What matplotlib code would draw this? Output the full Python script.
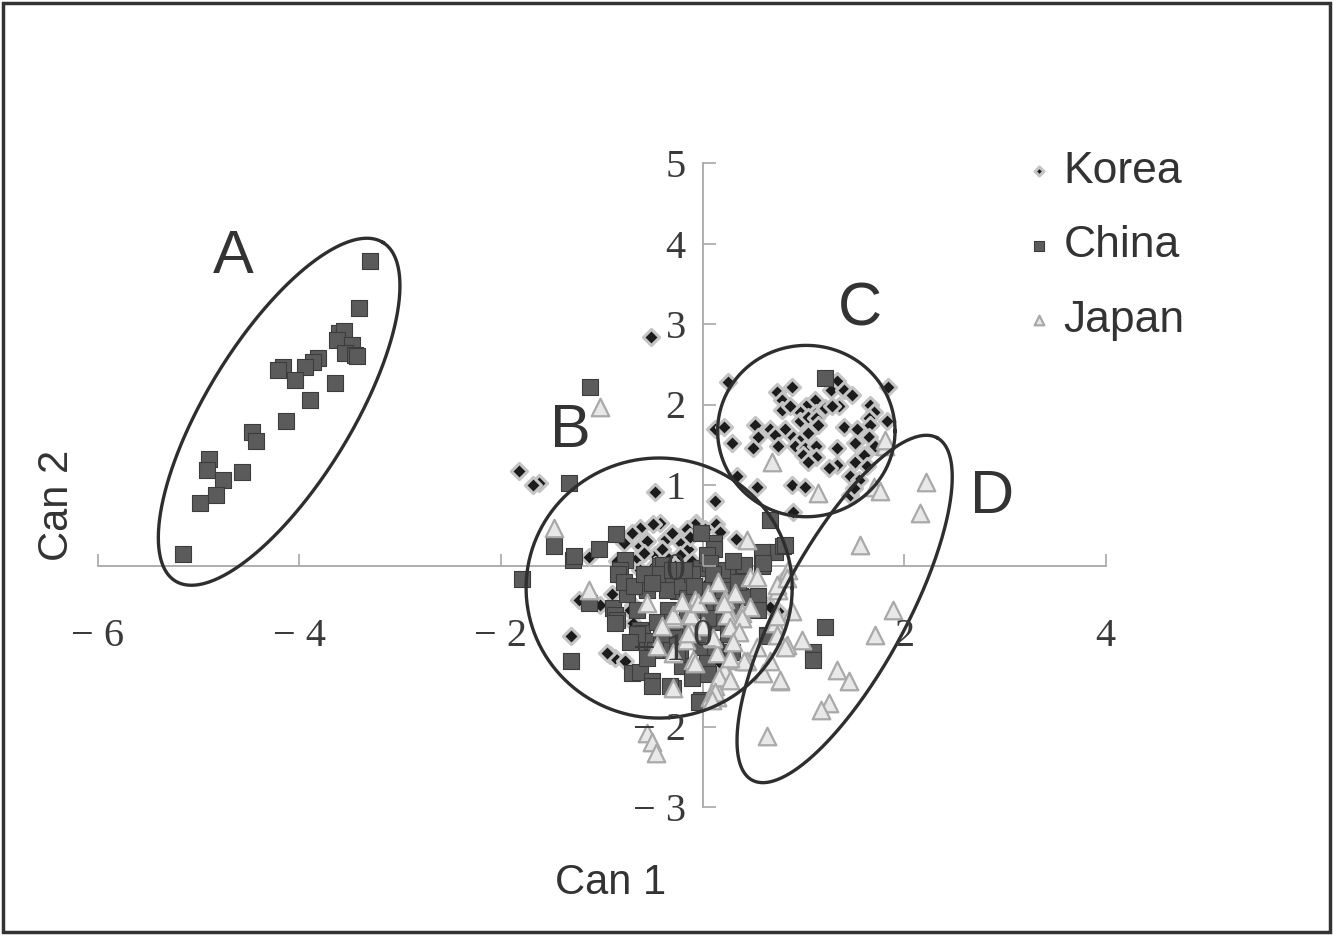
import numpy as np
import matplotlib
matplotlib.use("Agg")
import matplotlib.pyplot as plt
from matplotlib.patches import Rectangle
from matplotlib.ticker import FuncFormatter

plt.rcParams["font.family"] = ["Liberation Sans", "DejaVu Sans"]

# canonical scores, Korea
korea_x = [0.25, 0.74, 0.89, 0.79, 1.33, 1.27, 1.40, 1.48, 1.84, 1.12, 1.03, 1.35, 1.66, 1.70,
           0.97, 1.13, 0.79, 0.87, 1.22, 1.28, 0.52, 0.67, 0.82, 0.97, 1.05, 1.13, 1.40, 1.53,
           1.65, 1.66, 1.83, 0.12, 0.21, 0.29, 0.55, 0.72, 0.90, 0.97, 1.05, 1.15, 0.50, 0.75,
           0.92, 1.02, 1.13, 1.33, 1.51, 1.65, 1.71, 1.00, 1.13, 1.05, 1.33, 1.25, 1.51, 1.60,
           1.63, 0.34, 0.54, 0.89, 1.02, 1.46, 1.55, 1.46, 1.50, 0.90, 0.12, 0.13, 0.17, 0.33,
           0.75, 0.65, 0.82,
           -0.51, -1.82, -1.62, -1.68, -0.47, -1.13,
           -0.62, -0.42, -0.49, -0.36, -0.06, -0.62, -0.47, -0.21, -0.14, -0.07, -0.22, -0.27,
           -0.65, -0.62, -0.52, -0.47, -0.74, -0.62, -0.46, -0.42,
           -1.23, -1.02, -0.69, -1.30, -0.92, -0.87, -0.95, -0.77, -0.69, -0.29, 0.26, 0.17, 0.67,
           -0.30, -0.15, -0.55, -0.35, -0.10, 0.05, -0.25,
           -0.85, -0.78, -0.70, -0.58, -0.40, -0.32, -0.12, 0.02, -0.82, -0.90, -0.72]
korea_y = [2.28, 2.15, 2.22, 2.06, 2.29, 2.18, 2.18, 2.12, 2.22, 2.06, 1.98, 1.98, 2.00, 1.91,
           1.91, 1.89, 1.93, 1.98, 1.96, 1.98, 1.75, 1.69, 1.69, 1.79, 1.85, 1.83, 1.72, 1.69,
           1.83, 1.75, 1.79, 1.69, 1.72, 1.52, 1.60, 1.62, 1.60, 1.56, 1.64, 1.75, 1.46, 1.48,
           1.48, 1.46, 1.48, 1.46, 1.52, 1.60, 1.48, 1.37, 1.35, 1.29, 1.25, 1.21, 1.29, 1.37,
           1.23, 1.11, 0.98, 1.00, 0.98, 1.11, 1.06, 0.88, 0.96, 0.67, 0.80, 0.51, 0.41, 0.33,
           -0.57, -0.49, -0.16,
           2.84, 1.17, 1.03, 1.00, 0.91, 0.11,
           0.46, 0.53, 0.51, 0.33, 0.53, 0.24, 0.13, 0.28, 0.20, 0.51, 0.13, -0.01,
           0.09, -0.05, -0.14, 0.01, -0.26, -0.28, -0.20, -0.01,
           -0.43, -0.49, -0.49, -0.88, -1.11, -1.15, -1.09, -1.19, -0.72, -0.88, -1.01, -1.21, -0.51,
           0.40, 0.45, 0.30, 0.10, 0.05, -0.20, -0.30,
           0.05, 0.28, 0.40, 0.15, 0.20, -0.12, 0.35, 0.45, -0.15, -0.35, -0.55]

# canonical scores, China
china_x = [-3.30, -3.41, -3.61, -3.56, -3.63, -3.48, -3.55, -3.45, -3.43, -3.81, -3.86, -3.94,
           -4.16, -4.21, -4.04, -3.65, -3.89, -4.13, -4.47, -4.43, -4.90, -4.92, -4.57, -4.76,
           -4.83, -4.99, -5.15,
           1.22, 0.67, -1.12, -1.32, -1.47, -1.28, -1.27, -1.03, -0.86, -1.79, -0.77, -0.82,
           -0.84, 0.11, 0.07, -0.01, -1.13, -0.89, -0.42, -0.41,
           0.11, -0.01, 0.04, 0.24, 0.19, 0.41, 0.60, 0.59, 0.72, 0.80, 0.37, 0.55, 0.09, -0.24,
           -0.29, -0.39, 0.82, 0.59, 0.60, 0.11, 0.39, 0.55, 0.64, 1.22, 1.10, 1.10, 0.07, 0.04,
           -0.01,
           -1.30, -0.70, -0.62, -0.50, -0.50, -0.29, -0.87, -0.85, -0.62, -0.60, -0.55, -0.50,
           -0.41, -0.39, -0.37, -0.47, -0.87, -0.03,
           -0.22, -0.01, 0.12, 0.04, 0.29, 0.64, -0.34, -0.22, 0.11, -0.32,
           -0.55, -0.45, -0.35, -0.20, -0.15, -0.10, 0.00, -0.05, 0.15, 0.20, 0.28, 0.30, -0.45,
           -0.25, -0.12, 0.00, -0.20, 0.05, -0.10, -0.65, -0.75,
           -0.78, -0.68, -0.58, -0.50, -0.30, -0.18, -0.08, 0.10, 0.18, -0.65, -0.30, -0.15,
           0.05, 0.25, 0.35, -0.72, -0.55, -0.25]
china_y = [3.78, 3.20, 2.89, 2.91, 2.80, 2.74, 2.64, 2.62, 2.60, 2.58, 2.53, 2.47,
           2.47, 2.43, 2.30, 2.27, 2.06, 1.79, 1.66, 1.55, 1.32, 1.19, 1.16, 1.06,
           0.88, 0.78, 0.14,
           2.33, 0.57, 2.22, 1.02, 0.24, 0.07, 0.12, 0.21, 0.39, -0.17, 0.07, -0.05,
           -0.10, 0.28, 0.11, 0.40, -0.47, -0.53, -0.01, -0.18,
           0.20, -0.03, 0.13, -0.12, -0.05, 0.01, 0.13, -0.01, 0.17, 0.24, -0.38, -0.38, -0.32, -0.32,
           -0.14, 0.01, 0.26, 0.17, 0.03, -0.32, -0.39, -0.55, -0.86, -0.76, -1.07, -1.17, 0.03, -1.05,
           -1.67,
           -1.19, -1.34, -1.32, -1.44, -1.50, -1.52, -0.61, -0.68, -0.80, -0.84, -0.96, -0.94,
           -0.84, -0.92, -1.05, -1.05, -0.72, -1.69,
           -1.05, -1.01, -1.01, -1.21, -1.07, -0.88, -0.55, -0.72, -0.57, -1.50,
           -0.30, -0.10, -0.30, -0.25, -0.40, -0.10, -0.30, -0.55, -0.70, -0.30, -0.55, 0.05, -0.70,
           -0.88, -0.78, -0.85, -1.25, -1.35, -1.40, -0.55, -0.35,
           -0.20, -0.25, -0.10, -0.22, -0.05, -0.05, -0.25, -0.10, -0.50, -0.85, -0.70, -0.55,
           -0.65, -0.85, -0.20, -0.95, -1.15, -1.10]

# canonical scores, Japan
japan_x = [-1.02, -1.47, -1.13, -0.55, -0.55, -0.50, -0.46, -0.29,
           0.69, 1.15, 1.70, 1.76, 1.81, 1.81, 2.22, 2.16, 1.56,
           1.89, 1.71, 0.99, 0.84, 1.33, 1.45, 1.25, 1.18, 0.77, 0.64, 0.60,
           0.44, 0.44, 0.27, 0.26, 0.12, 0.14, 0.47, 0.75, 0.89, 0.72, 0.74, 0.39, 0.31, 0.26,
           0.22, 0.47, 0.85, 0.54, 0.74, -0.07, 0.32, 0.84,
           -0.29, -0.12, -0.11, -0.16, -0.09, 0.14, 0.07, 0.21,
           -0.29, -0.11, -0.14, -0.29, -0.07, 0.16, 0.27, 0.12, 0.09, 0.24, 0.39, 0.27, 0.36,
           0.54, 0.41, 0.67, 0.77, 0.82, 0.74, 0.27, -0.04, 0.21,
           -0.40, -0.20, 0.00, 0.10, 0.30, -0.45, 0.05, 0.15]
japan_y = [1.97, 0.46, -0.30, -0.47, -2.08, -2.19, -2.33, -1.52,
           1.29, 0.90, 0.98, 0.92, 1.48, 1.56, 1.04, 0.65, 0.26,
           -0.55, -0.86, -0.92, -0.99, -1.30, -1.44, -1.71, -1.79, -1.44, -2.12, -1.34,
           0.32, -1.19, -1.17, -1.40, -1.50, -1.63, -0.14, -0.30, -0.57, -0.72, -0.86, -0.59, -0.76, -0.59,
           -0.41, -0.51, -0.05, -0.14, -0.24, -0.43, -0.34, -0.16,
           -0.65, -0.59, -0.80, -0.92, -1.17, -1.09, -1.63, -1.30,
           -0.61, -0.61, -0.84, -1.09, -1.21, -1.38, -1.42, -1.57, -1.67, -0.61, -0.65, -0.76, -0.82,
           -1.01, -1.19, -1.19, -1.42, -1.01, -0.63, -1.15, -0.47, -0.47,
           -0.75, -0.45, -0.75, -0.90, -0.95, -1.00, -0.35, -0.20]

x_ticks = [-6, -4, -2, 0, 2, 4]
y_ticks = [-3, -2, -1, 0, 1, 2, 3, 4, 5]

# group outlines: centre (data), semi-axes in x units, tilt in screen degrees
group_names = ["A", "B", "C", "D"]
group_cx = [-4.20, -0.43, 1.03, 1.41]
group_cy = [1.91, -0.28, 1.67, -0.54]
group_a = [1.97, 1.32, 0.88, 1.93]
group_b = [0.72, 1.29, 0.85, 0.62]
group_ang = [58.5, 0, 0, 61.6]
label_x = [-4.66, -1.31, 1.56, 2.87]
label_y = [3.82, 1.66, 3.18, 0.85]

fig = plt.figure(figsize=(13.33, 9.35), dpi=100)
ax = fig.add_axes([97.7 / 1333, 128 / 935, 1008 / 1333, 644 / 935])
ax.set_xlim(-6, 4)
ax.set_ylim(-3, 5)

for s in ["top", "right"]:
    ax.spines[s].set_visible(False)
for s in ["left", "bottom"]:
    ax.spines[s].set_position(("data", 0))
    ax.spines[s].set_color("#a8a8a8")
    ax.spines[s].set_linewidth(1.3)
    ax.spines[s].set_zorder(0.5)

ax.set_xticks(x_ticks)
ax.set_yticks(y_ticks)
tick_fmt = FuncFormatter(lambda v, pos: f"\u2212 {abs(v):g}" if v < 0 else f"{v:g}")
ax.xaxis.set_major_formatter(tick_fmt)
ax.yaxis.set_major_formatter(tick_fmt)
ax.tick_params(direction="in", length=9, width=1.2, color="#a8a8a8",
               labelsize=29, labelcolor="#3a3a3a", labelfontfamily="Liberation Serif")
ax.tick_params(axis="x", pad=38)
ax.tick_params(axis="y", pad=12)
ax.xaxis.set_zorder(6)
ax.yaxis.set_zorder(6)

ax.scatter(korea_x, korea_y, marker="D", s=68, c="#1c1c1c", edgecolors="#c4c4c4",
           linewidths=2.2, label="Korea", zorder=2)
ax.scatter(china_x, china_y, marker="s", s=140, c="#5b5b5b", edgecolors="#3c3c3c",
           linewidths=0.8, label="China", zorder=3)
ax.scatter(japan_x, japan_y, marker="^", s=160, c="#e8e8e8", edgecolors="#a9a9a9",
           linewidths=1.6, label="Japan", zorder=4)

# aspect ratio between y and x units on screen
bb = ax.get_position()
k = (bb.height * 9.35 / 8) / (bb.width * 13.33 / 10)
t = np.linspace(0, 2 * np.pi, 400)
for cx, cy, a, b, ang in zip(group_cx, group_cy, group_a, group_b, group_ang):
    th = np.deg2rad(ang)
    u = a * np.cos(t) * np.cos(th) - b * np.sin(t) * np.sin(th)
    v = a * np.cos(t) * np.sin(th) + b * np.sin(t) * np.cos(th)
    ax.plot(cx + u, cy + v / k, color="#2e2e2e", lw=2.4, zorder=5)

for name, lx, ly in zip(group_names, label_x, label_y):
    ax.text(lx, ly, name, fontsize=44, color="#333333", ha="center", va="center")

leg = ax.legend(loc="upper left", bbox_to_anchor=(1028 / 1333, 1 - 151 / 935),
                bbox_transform=fig.transFigure, frameon=False, fontsize=32,
                markerscale=0.55, handlelength=0.5, handletextpad=0.3,
                labelspacing=0.75, borderpad=0, borderaxespad=0)
for txt in leg.get_texts():
    txt.set_color("#333333")

fig.text(611 / 1333, 1 - 883 / 935, "Can 1", fontsize=30, color="#333333",
         ha="center", va="center")
fig.text(57 / 1333, 1 - 505 / 935, "Can 2", fontsize=30, color="#333333",
         ha="center", va="center", rotation=90)

fig.patches.append(Rectangle((0.002, 0.003), 0.996, 0.994, transform=fig.transFigure,
                             fill=False, ec="#333333", lw=2.5))

fig.savefig("out.png", dpi=100)
